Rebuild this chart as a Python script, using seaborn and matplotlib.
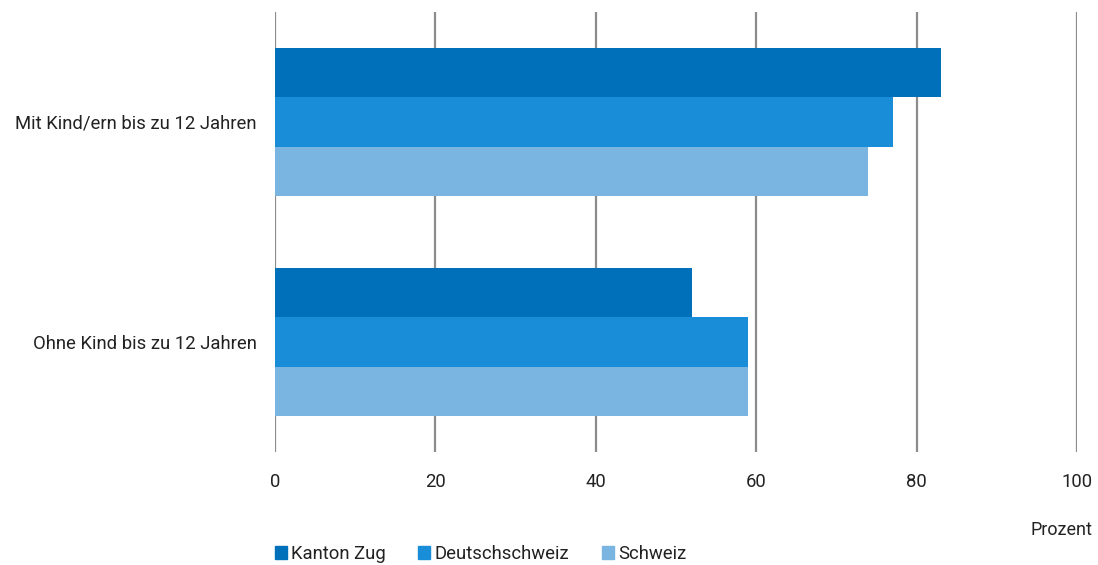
import matplotlib.pyplot as plt
import pandas as pd
import seaborn as sns

categories = ["Mit Kind/ern bis zu 12 Jahren", "Ohne Kind bis zu 12 Jahren"]
regions = ["Kanton Zug", "Deutschschweiz", "Schweiz"]
kanton_zug = [83, 52]
deutschschweiz = [77, 59]
schweiz = [74, 59]
colors = ["#0070bb", "#1a8dd8", "#7ab5e2"]

rows = []
for region, values in zip(regions, [kanton_zug, deutschschweiz, schweiz]):
    for cat, val in zip(categories, values):
        rows.append({"Kategorie": cat, "Region": region, "Prozent": val})
df = pd.DataFrame(rows)

sns.set_theme(style="white")
plt.rcParams["font.family"] = ["Roboto", "DejaVu Sans"]

fig = plt.figure(figsize=(10.98, 5.65), dpi=100)
ax = fig.add_axes([275 / 1098, 113 / 565, 802 / 1098, 440 / 565])

sns.barplot(
    data=df,
    x="Prozent",
    y="Kategorie",
    hue="Region",
    hue_order=regions,
    order=categories,
    palette=colors,
    orient="h",
    width=0.67,
    saturation=1,
    linewidth=0,
    ax=ax,
    legend=False,
)

ax.set_xlim(0, 100)
ax.set_ylim(1.5, -0.5)
ax.set_xticks([0, 20, 40, 60, 80, 100])
ax.xaxis.grid(True, color="#8c8c8c", linewidth=1.6)
ax.set_axisbelow(True)
for s in ax.spines.values():
    s.set_visible(False)
ax.tick_params(axis="both", length=0, labelsize=13.3, colors="#222222")
ax.tick_params(axis="x", pad=15)
ax.tick_params(axis="y", pad=13)
ax.set_xlabel("")
ax.set_ylabel("")

fig.text(1093 / 1098, 1 - 530 / 565, "Prozent", ha="right", va="center",
         fontsize=13, color="#222222")

handles = [plt.Rectangle((0, 0), 1, 1, color=c) for c in colors]
fig.legend(
    handles,
    regions,
    loc="center left",
    bbox_to_anchor=(258 / 1098, 1 - 554 / 565),
    ncol=3,
    frameon=False,
    fontsize=13.3,
    handlelength=0.65,
    handleheight=0.65,
    handletextpad=0.25,
    columnspacing=1.75,
    labelcolor="#222222",
)

fig.savefig("out.png", dpi=100)
